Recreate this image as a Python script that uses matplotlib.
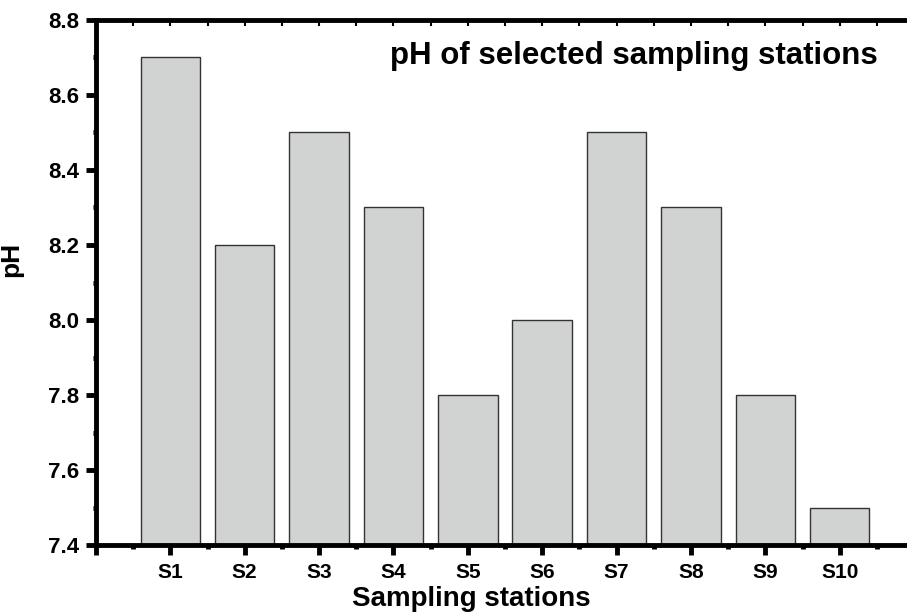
import numpy as np
import matplotlib.pyplot as plt

plt.rcParams['font.family'] = ['Liberation Sans', 'DejaVu Sans']
plt.rcParams['font.weight'] = 'bold'

stations = ["S1", "S2", "S3", "S4", "S5", "S6", "S7", "S8", "S9", "S10"]
ph = [8.7, 8.2, 8.5, 8.3, 7.8, 8.0, 8.5, 8.3, 7.8, 7.5]
y_ticks = [7.4, 7.6, 7.8, 8.0, 8.2, 8.4, 8.6, 8.8]

fig = plt.figure(figsize=(9.07, 6.15), dpi=100)
# axes run a bit past the right edge (original figure is cropped there)
ax = fig.add_axes([0.1058, 0.1138, 0.902, 0.8537])

x = np.arange(1, len(stations) + 1)
ax.bar(x, np.array(ph) - 7.4, bottom=7.4, width=0.8, color="#d1d3d2",
       edgecolor="#333333", linewidth=1.0, zorder=2)

ax.set_xlim(0, 11)
ax.set_ylim(7.4, 8.8)
ax.set_xticks(np.arange(0, 11))
ax.set_xticklabels([""] + stations, fontsize=15, fontweight='bold')
ax.set_xticks(np.arange(0.5, 11, 1), minor=True)
ax.set_yticks(y_ticks)
ax.set_yticklabels([f"{v:.1f}" for v in y_ticks], fontsize=16, fontweight='bold')
ax.set_yticks(np.arange(7.5, 8.8, 0.2), minor=True)

for s in ("left", "bottom", "top"):
    ax.spines[s].set_linewidth(3.5)
ax.spines["right"].set_visible(False)

ax.tick_params(axis='x', which='major', direction='out', length=7, width=3.5, pad=6)
ax.tick_params(axis='x', which='minor', direction='out', length=3, width=3.5)
ax.tick_params(axis='y', which='major', direction='out', length=7, width=3.5, pad=5)
ax.tick_params(axis='y', which='minor', direction='out', length=2.5, width=3.5)

# tiny inward ticks along the top frame
top = ax.secondary_xaxis('top')
top.set_xticks(np.arange(0.5, 11, 0.5))
top.set_xticklabels([])
top.tick_params(direction='in', length=4, width=1.5)
top.spines['top'].set_visible(False)

ax.set_xlabel("Sampling stations", fontsize=20, fontweight='bold')
ax.xaxis.set_label_coords(0.459, -0.079)
ax.set_ylabel("pH", fontsize=19, fontweight='bold')
ax.yaxis.set_label_coords(-0.089, 0.543)

ax.text(0.956, 0.931, "pH of selected sampling stations", transform=ax.transAxes,
        ha='right', va='center', fontsize=22.5, fontweight='bold')

fig.savefig("out.png", dpi=100)
